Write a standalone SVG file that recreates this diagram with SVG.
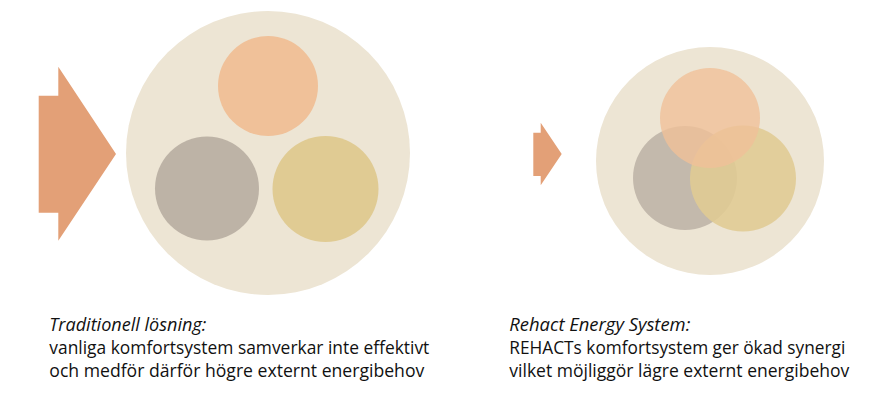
<svg xmlns="http://www.w3.org/2000/svg" width="894" height="400" viewBox="0 0 894 400">
<style>
.bg{fill:#ede5d4}
.arrow{fill:#e3a077}
.peach{fill:#f0c199}
.gray{fill:#bdb3a6}
.yellow{fill:#e0cb93}
.ov{opacity:0.88}
text{font-family:"Open Sans","Liberation Sans",sans-serif;font-size:18px;fill:#111111}
.it{font-style:italic}
</style>
<rect width="894" height="400" fill="#ffffff"/>
<g id="traditional">
  <polygon id="arrow-left" class="arrow" points="38.7,95.7 58.3,95.7 58.3,66.7 116,154 58.3,240.7 58.3,212.7 38.7,212.7"/>
  <circle id="outer-left" class="bg" cx="268" cy="153" r="142"/>
  <circle id="peach-left" class="peach" cx="268" cy="86" r="50"/>
  <circle id="gray-left" class="gray" cx="207" cy="188.5" r="52"/>
  <circle id="yellow-left" class="yellow" cx="325.5" cy="189" r="53"/>
</g>
<g id="rehact">
  <polygon id="arrow-right" class="arrow" points="533.3,132.7 540.7,132.7 540.7,122.7 561.7,154 540.7,185.3 540.7,176 533.3,176"/>
  <circle id="outer-right" class="bg" cx="710" cy="161" r="114"/>
  <circle id="gray-right" class="gray ov" cx="685" cy="178" r="52"/>
  <circle id="yellow-right" class="yellow ov" cx="743" cy="178.5" r="53"/>
  <circle id="peach-right" class="peach" cx="710" cy="118" r="50" opacity="0.8"/>
</g>
<g id="labels">
  <text class="it" x="49.3" y="331" textLength="157" lengthAdjust="spacingAndGlyphs">Traditionell lösning:</text>
  <text x="49.3" y="354" textLength="380" lengthAdjust="spacingAndGlyphs">vanliga komfortsystem samverkar inte effektivt</text>
  <text x="49.3" y="377" textLength="375" lengthAdjust="spacingAndGlyphs">och medför därför högre externt energibehov</text>
  <text class="it" x="509.3" y="331" textLength="181" lengthAdjust="spacingAndGlyphs">Rehact Energy System:</text>
  <text x="509.3" y="354" textLength="336" lengthAdjust="spacingAndGlyphs">REHACTs komfortsystem ger ökad synergi</text>
  <text x="509.3" y="377" textLength="340" lengthAdjust="spacingAndGlyphs">vilket möjliggör lägre externt energibehov</text>
</g>
</svg>
